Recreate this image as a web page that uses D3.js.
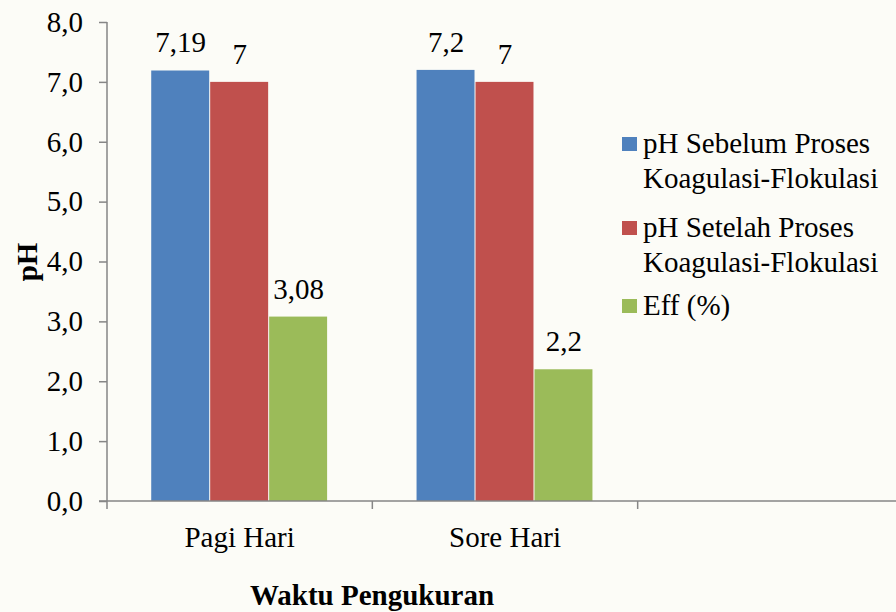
<!DOCTYPE html>
<html>
<head>
<meta charset="utf-8">
<script src="https://cdn.jsdelivr.net/npm/d3@7"></script>
<style>
  body { margin: 0; background: #fcfcf7; }
  svg { display: block; }
</style>
</head>
<body>
<div id="container"></div>
<script>
const categories = ["Pagi Hari", "Sore Hari", ""];
const seriesNames = [
  ["pH Sebelum Proses", "Koagulasi-Flokulasi"],
  ["pH Setelah Proses", "Koagulasi-Flokulasi"],
  ["Eff (%)"]
];
const sebelum = [7.19, 7.2];
const setelah = [7, 7];
const eff = [3.08, 2.2];
const labels = [["7,19", "7,2"], ["7", "7"], ["3,08", "2,2"]];
const yTicks = [0, 1, 2, 3, 4, 5, 6, 7, 8];

const colors = ["#4f81bd", "#c0504d", "#9bbb59"];
const series = [sebelum, setelah, eff];

const width = 896, height = 612;
const FONT = "Liberation Serif";
const FS = 29;
const AXIS = "#868686";

const svg = d3.select("#container").append("svg")
  .attr("width", width)
  .attr("height", height);

svg.append("rect").attr("width", width).attr("height", height).attr("fill", "#fcfcf7");

const x = d3.scaleBand().domain(categories).range([107, 903]).paddingInner(0).paddingOuter(0);
const y = d3.scaleLinear().domain([0, 8]).range([501, 22]);
const inner = d3.scaleBand().domain([0, 1, 2]).range([0, x.bandwidth()]).paddingOuter(0.75).paddingInner(0);

// bars
series.forEach((vals, si) => {
  const g = svg.append("g");
  g.selectAll("rect")
    .data(vals)
    .join("rect")
    .attr("x", (d, i) => x(categories[i]) + inner(si))
    .attr("y", d => y(d))
    .attr("width", inner.bandwidth() - 1)
    .attr("height", d => y(0) - y(d))
    .attr("fill", colors[si]);
  g.selectAll("text")
    .data(vals)
    .join("text")
    .attr("x", (d, i) => x(categories[i]) + inner(si) + inner.bandwidth() / 2)
    .attr("y", d => y(d) - 18)
    .attr("text-anchor", "middle")
    .attr("font-family", FONT)
    .attr("font-size", FS)
    .attr("fill", "#000")
    .text((d, i) => labels[si][i]);
});

// y axis
const yAxis = svg.append("g")
  .attr("transform", "translate(107,0)")
  .call(d3.axisLeft(y).tickValues(yTicks).tickSize(8).tickPadding(16)
    .tickFormat(d => d3.format(".1f")(d).replace(".", ",")));
yAxis.attr("font-family", FONT).attr("font-size", FS);
yAxis.select(".domain").attr("stroke", AXIS).attr("stroke-width", 1.5).attr("d", "M0,22V501");
yAxis.selectAll(".tick line").attr("stroke", AXIS).attr("stroke-width", 1.5);
yAxis.selectAll(".tick text").attr("fill", "#000");

// x axis
const xAxis = svg.append("g")
  .attr("transform", "translate(0,501)")
  .call(d3.axisBottom(x).tickSize(0).tickPadding(25));
xAxis.attr("font-family", FONT).attr("font-size", FS);
xAxis.select(".domain").attr("stroke", AXIS).attr("stroke-width", 1.5).attr("d", "M99,0H903");
xAxis.selectAll(".tick text").attr("fill", "#000");
xAxis.selectAll(".sep")
  .data(categories)
  .join("line")
  .attr("x1", d => x(d)).attr("x2", d => x(d))
  .attr("y1", 0).attr("y2", 8)
  .attr("stroke", AXIS).attr("stroke-width", 1.5);

// axis titles
svg.append("text")
  .attr("transform", "translate(37,262) rotate(-90)")
  .attr("text-anchor", "middle")
  .attr("font-family", FONT)
  .attr("font-weight", "bold")
  .attr("font-size", FS)
  .text("pH");

svg.append("text")
  .attr("x", 372)
  .attr("y", 605)
  .attr("text-anchor", "middle")
  .attr("font-family", FONT)
  .attr("font-weight", "bold")
  .attr("font-size", FS)
  .text("Waktu Pengukuran");

// legend
const legendY = [137, 221, 299];
const legend = svg.append("g");
seriesNames.forEach((lines, i) => {
  legend.append("rect")
    .attr("x", 622).attr("y", legendY[i])
    .attr("width", 15).attr("height", 14)
    .attr("fill", colors[i]);
  const t = legend.append("text")
    .attr("font-family", FONT)
    .attr("font-size", FS)
    .attr("fill", "#000");
  lines.forEach((ln, j) => {
    t.append("tspan")
      .attr("x", 643)
      .attr("y", legendY[i] + 16 + j * 35)
      .text(ln);
  });
});
</script>
</body>
</html>
